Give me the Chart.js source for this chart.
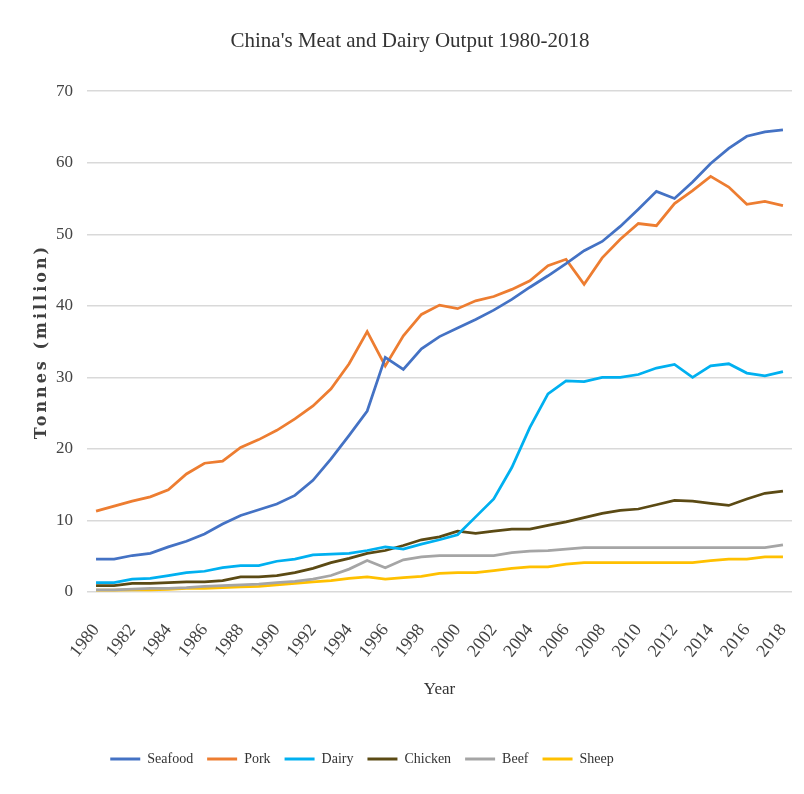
<!DOCTYPE html>
<html>
<head>
<meta charset="utf-8">
<script src="https://cdn.jsdelivr.net/npm/chart.js@4/dist/chart.umd.min.js"></script>
<style>
  html, body { margin: 0; padding: 0; background: #fff; }
  #wrap { width: 804px; height: 794px; }
</style>
</head>
<body>
<div id="wrap"><canvas id="chart" width="804" height="794"></canvas></div>
<script>
// years 1980-2018
const years = [];
for (let y = 1980; y <= 2018; y++) years.push(String(y));

const seafood = [4.6, 4.6, 5.1, 5.4, 6.3, 7.1, 8.1, 9.5, 10.7, 11.5, 12.3, 13.5, 15.6, 18.6, 21.9, 25.3, 32.8, 31.1, 34.0, 35.7,
  36.9, 38.1, 39.4, 40.9, 42.6, 44.2, 45.9, 47.7, 49.0, 51.1, 53.5, 56.0, 55.0, 57.3, 59.9, 62.0, 63.7, 64.3, 64.6];
const pork = [11.3, 12.0, 12.7, 13.3, 14.3, 16.5, 18.0, 18.3, 20.2, 21.3, 22.6, 24.2, 26.0, 28.4, 31.9, 36.4, 31.6, 35.8, 38.8, 40.1,
  39.6, 40.7, 41.3, 42.3, 43.5, 45.6, 46.5, 43.0, 46.7, 49.3, 51.5, 51.2, 54.3, 56.1, 58.1, 56.6, 54.2, 54.6, 54.0];
const dairy = [1.3, 1.3, 1.8, 1.9, 2.3, 2.7, 2.9, 3.4, 3.7, 3.7, 4.3, 4.6, 5.2, 5.3, 5.4, 5.8, 6.3, 6.0, 6.7, 7.3,
  8.0, 10.5, 13.0, 17.4, 23.0, 27.7, 29.5, 29.4, 30.0, 30.0, 30.4, 31.3, 31.8, 30.0, 31.6, 31.9, 30.6, 30.2, 30.8];
const chicken = [0.9, 0.9, 1.2, 1.2, 1.3, 1.4, 1.4, 1.6, 2.1, 2.1, 2.3, 2.7, 3.3, 4.1, 4.7, 5.4, 5.8, 6.5, 7.3, 7.7,
  8.5, 8.2, 8.5, 8.8, 8.8, 9.3, 9.8, 10.4, 11.0, 11.4, 11.6, 12.2, 12.8, 12.7, 12.4, 12.1, 13.0, 13.8, 14.1];
const beef = [0.3, 0.3, 0.4, 0.5, 0.5, 0.6, 0.8, 0.9, 1.0, 1.1, 1.3, 1.5, 1.8, 2.3, 3.2, 4.4, 3.4, 4.5, 4.9, 5.1,
  5.1, 5.1, 5.1, 5.5, 5.7, 5.8, 6.0, 6.2, 6.2, 6.2, 6.2, 6.2, 6.2, 6.2, 6.2, 6.2, 6.2, 6.2, 6.6];
const sheep = [0.25, 0.25, 0.3, 0.3, 0.35, 0.5, 0.5, 0.6, 0.7, 0.8, 1.0, 1.2, 1.4, 1.6, 1.9, 2.1, 1.8, 2.0, 2.2, 2.6,
  2.7, 2.7, 3.0, 3.3, 3.5, 3.5, 3.9, 4.1, 4.1, 4.1, 4.1, 4.1, 4.1, 4.1, 4.4, 4.6, 4.6, 4.9, 4.9];

const seriesNames = ['Seafood', 'Pork', 'Dairy', 'Chicken', 'Beef', 'Sheep'];
const seriesColors = ['#4472C4', '#ED7D31', '#00B0F0', '#5B4A14', '#A5A5A5', '#FFC000'];
const seriesData = [seafood, pork, dairy, chicken, beef, sheep];

const serif = "'Liberation Serif', serif";

const datasets = seriesNames.map((name, i) => ({
  label: name,
  data: seriesData[i],
  borderColor: seriesColors[i],
  backgroundColor: seriesColors[i],
  borderWidth: 2.75,
  pointRadius: 0,
  tension: 0
}));

// nudge title right and legend left, as in the reference
const nudge = {
  id: 'nudge',
  afterLayout(chart) {
    chart.legend.left -= 34;
    chart.legend.right -= 34;
    chart.titleBlock.left += 14;
    chart.titleBlock.right += 14;
  }
};

new Chart(document.getElementById('chart'), {
  type: 'line',
  data: { labels: years, datasets: datasets },
  plugins: [nudge],
  options: {
    responsive: false,
    animation: false,
    layout: { padding: { left: 0, right: 12, top: 0, bottom: 18 } },
    plugins: {
      tooltip: { enabled: false },
      title: {
        display: true,
        text: "China's Meat and Dairy Output 1980-2018",
        color: '#333',
        font: { family: serif, size: 21, weight: 'normal' },
        padding: { top: 29, bottom: 37 }
      },
      legend: {
        position: 'bottom',
        labels: {
          color: '#333',
          font: { family: serif, size: 14 },
          boxWidth: 30,
          boxHeight: 3,
          padding: 14,
          generateLabels(chart) {
            return Chart.defaults.plugins.legend.labels.generateLabels(chart).map(l => {
              l.lineWidth = 0;
              return l;
            });
          }
        }
      }
    },
    scales: {
      x: {
        offset: true,
        grid: { display: false, drawTicks: false },
        border: { display: false },
        ticks: {
          color: '#444',
          font: { family: serif, size: 18 },
          autoSkip: false,
          minRotation: 52,
          maxRotation: 52,
          padding: 28,
          callback(value, index) {
            return index % 2 === 0 ? this.getLabelForValue(value) : '';
          }
        },
        title: {
          display: true,
          text: 'Year',
          color: '#333',
          font: { family: serif, size: 17 },
          padding: { top: 0, bottom: 38 }
        },
        afterFit(scale) {
          scale.height = 146;
          scale.paddingLeft = 0;
          scale.paddingRight = 0;
        }
      },
      y: {
        min: 0,
        max: 70,
        ticks: {
          stepSize: 10,
          color: '#444',
          font: { family: serif, size: 17 },
          padding: 14
        },
        grid: { color: '#d9d9d9', lineWidth: 1.5, drawTicks: false },
        border: { display: false },
        title: {
          display: true,
          text: 'Tonnes (million)',
          color: '#404040',
          font: { family: "'DejaVu Serif', serif", size: 16, weight: 'bold' },
          padding: { top: 32, bottom: 0 }
        },
        afterFit(scale) {
          scale.width = 87;
          // the reference axis title is letter-spaced
          if (!scale._spaced) {
            const orig = scale.drawTitle;
            scale.drawTitle = function () {
              const ctx = this.ctx;
              ctx.save();
              ctx.letterSpacing = '3px';
              orig.call(this);
              ctx.restore();
            };
            scale._spaced = true;
          }
        }
      }
    }
  }
});
</script>
</body>
</html>
